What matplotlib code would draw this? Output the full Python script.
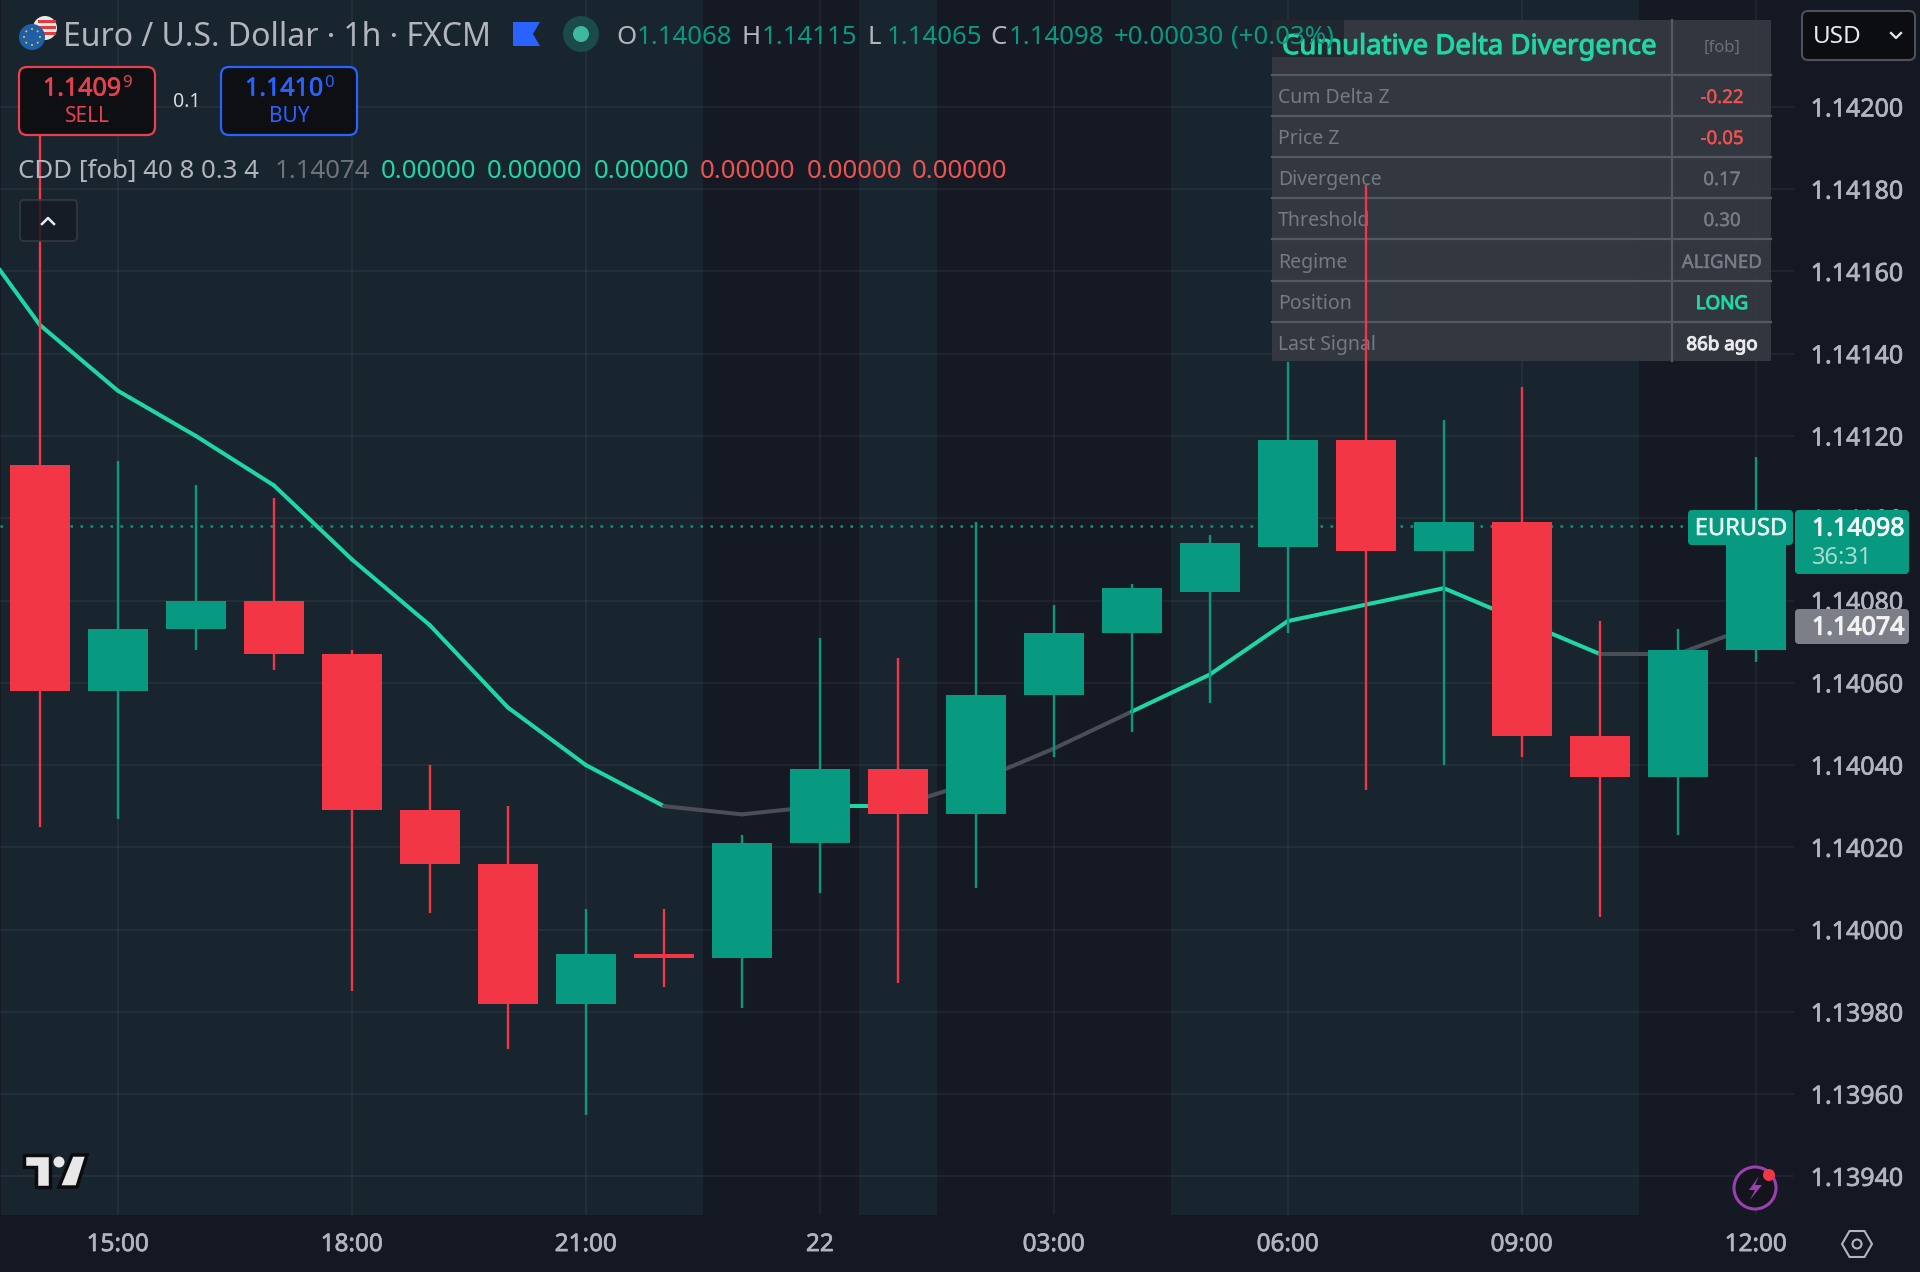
import numpy as np
import matplotlib
matplotlib.use("Agg")
import matplotlib.pyplot as plt
import matplotlib.patheffects as pe
from matplotlib.patches import Rectangle, FancyBboxPatch, Circle, Polygon

plt.rcParams['font.family'] = ['Noto Sans', 'DejaVu Sans']

# hourly candles, first bar is 14:00
opens = [1.14113, 1.14058, 1.14073, 1.14080, 1.14067, 1.14029, 1.14016, 1.13982, 1.13994, 1.13993, 1.14021, 1.14039,
         1.14028, 1.14057, 1.14072, 1.14082, 1.14093, 1.14119, 1.14092, 1.14099, 1.14047, 1.14037, 1.14068]
highs = [1.14195, 1.14114, 1.14108, 1.14105, 1.14068, 1.14040, 1.14030, 1.14005, 1.14005, 1.14023, 1.14071, 1.14066,
         1.14099, 1.14079, 1.14084, 1.14096, 1.14138, 1.14181, 1.14124, 1.14132, 1.14075, 1.14073, 1.14115]
lows = [1.14025, 1.14027, 1.14068, 1.14063, 1.13985, 1.14004, 1.13971, 1.13955, 1.13986, 1.13981, 1.14009, 1.13987,
        1.14010, 1.14042, 1.14048, 1.14055, 1.14072, 1.14034, 1.14040, 1.14042, 1.14003, 1.14023, 1.14065]
closes = [1.14058, 1.14073, 1.14080, 1.14067, 1.14029, 1.14016, 1.13982, 1.13994, 1.13993, 1.14021, 1.14039, 1.14028,
          1.14057, 1.14072, 1.14083, 1.14094, 1.14119, 1.14092, 1.14099, 1.14047, 1.14037, 1.14068, 1.14098]

# CDD line, starts one bar before the first candle
cdd = [1.14173, 1.14147, 1.14131, 1.14120, 1.14108, 1.14090, 1.14074, 1.14054, 1.14040, 1.14030, 1.14028, 1.14030,
       1.14030, 1.14036, 1.14044, 1.14053, 1.14062, 1.14075, 1.14079, 1.14083, 1.14075, 1.14067, 1.14067, 1.14074]
# 1 = teal segment into this bar, 0 = grey
cdd_active = [1, 1, 1, 1, 1, 1, 1, 1, 1, 0, 0, 1, 0, 0, 0, 1, 1, 1, 1, 1, 1, 0, 0]
# background per bar, 1 = teal shade
regime = [1, 1, 1, 1, 1, 1, 1, 1, 1, 0, 0, 1, 0, 0, 0, 1, 1, 1, 1, 1, 1, 0, 0]

time_ticks = [1, 4, 7, 10, 13, 16, 19, 22]
time_labels = ['15:00', '18:00', '21:00', '22', '03:00', '06:00', '09:00', '12:00']
price_ticks = [1.1394, 1.1396, 1.1398, 1.1400, 1.1402, 1.1404, 1.1406, 1.1408, 1.1410, 1.1412, 1.1414, 1.1416, 1.1418, 1.1420]

table_rows = ['Cum Delta Z', 'Price Z', 'Divergence', 'Threshold', 'Regime', 'Position', 'Last Signal']
table_vals = ['-0.22', '-0.05', '0.17', '0.30', 'ALIGNED', 'LONG', '86b ago']

GREEN = '#089981'
RED = '#f23645'
TEAL = '#1fd6a5'
DARK = '#151924'
SHADE = '#18252e'
TXT = '#b2b5be'


# thin outline in the text colour, the fonts here have no usable medium weight
def heavy(col, w=0.6):
    return [pe.withStroke(linewidth=w, foreground=col)]


W, H = 1920, 1272
fig = plt.figure(figsize=(W / 100, H / 100), dpi=100, facecolor='#141823')
ax = fig.add_axes([0, 1 - 1215 / H, 1794 / W, 1215 / H], zorder=1)
ax.set_facecolor(DARK)
ax.set_xlim(-0.511, 22.49)
ax.set_ylim(1.139306, 1.14226)
for s in ax.spines.values():
    s.set_visible(False)

# overlay in pixel coordinates for the toolbar widgets
ui = fig.add_axes([0, 0, 1, 1], zorder=5)
ui.set_xlim(0, W)
ui.set_ylim(H, 0)
ui.axis('off')
ui.patch.set_alpha(0)

# regime shading
for i, r in enumerate(regime):
    if r:
        ax.axvspan(i - 0.5, i + 0.5, color=SHADE, lw=0, zorder=0)

ax.set_xticks(time_ticks)
ax.set_xticklabels(time_labels, fontsize=17.5, color=TXT, path_effects=heavy(TXT, 0.5))
ax.yaxis.tick_right()
ax.set_yticks(price_ticks)
ax.set_yticklabels(['%.5f' % p for p in price_ticks], fontsize=18, color=TXT, path_effects=heavy(TXT, 0.5))
ax.tick_params(axis='x', length=0, pad=13)
ax.tick_params(axis='y', length=0, pad=12)
ax.grid(True, color='#ffffff', alpha=0.05, lw=1.3, zorder=0.5)
ax.set_axisbelow(True)

# settings table sits under the candles
tf = ui.transData
ax.add_patch(Rectangle((1272, 20), 499, 341, fc='#343841', ec='none', alpha=0.96, transform=tf, zorder=1.5))
ax.add_patch(Rectangle((1272, 20), 72, 37, fc='#1d2129', ec='none', alpha=0.75, transform=tf, zorder=1.55))
for y in [75, 116, 157, 198, 239, 281, 322]:
    ax.plot([1272, 1771], [y, y], color='#565962', lw=1.6, transform=tf, zorder=1.6)
ax.plot([1672, 1672], [20, 361], color='#565962', lw=1.6, transform=tf, zorder=1.6)
ax.text(1282, 47, 'Cumulative Delta Divergence', color=TEAL, fontsize=19.8, va='center', transform=tf, zorder=1.7,
        path_effects=heavy(TEAL, 0.8))
ax.text(1722, 48, '[fob]', color='#6d7079', fontsize=12, ha='center', va='center', transform=tf, zorder=1.7)
val_colors = ['#ef5350', '#ef5350', '#787b86', '#787b86', '#787b86', TEAL, '#e8e9ec']
for i in range(7):
    y = [98, 139, 180, 221, 263, 304, 345][i]
    ax.text(1278, y, table_rows[i], color='#767982', fontsize=14, va='center', transform=tf, zorder=1.7)
    ax.text(1722, y, table_vals[i], color=val_colors[i], fontsize=13.5, ha='center', va='center', transform=tf, zorder=1.7,
            path_effects=heavy(val_colors[i], 0.8 if i >= 5 else 0.3))

# CDD line under the candles
for i in range(len(cdd_active)):
    c = TEAL if cdd_active[i] else '#4b4e57'
    ax.plot([i - 1, i], [cdd[i], cdd[i + 1]], color=c, lw=2.9, solid_capstyle='round', zorder=2)

# last price
ax.axhline(closes[-1], color=GREEN, lw=1.8, ls=(0, (1, 3)), zorder=2.5)

# candles
for i in range(len(opens)):
    c = GREEN if closes[i] >= opens[i] else RED
    ax.vlines(i, lows[i], highs[i], color=c, lw=1.7, zorder=3)
    ax.bar(i, abs(closes[i] - opens[i]), bottom=min(opens[i], closes[i]), width=0.77, color=c, lw=0, zorder=3.2)

# header line
ui.add_patch(Circle((45, 28), 12, fc='#e8e8e8', ec='none'))
for y in [21, 27, 33]:
    ui.add_patch(Rectangle((38, y - 1.5), 18, 3, fc='#e23b3b', ec='none'))
ui.add_patch(Circle((32, 37), 13, fc='#1e5fa8', ec='none'))
for a in np.linspace(0, 2 * np.pi, 8, endpoint=False):
    ui.add_patch(Circle((32 + 8 * np.cos(a), 37 + 8 * np.sin(a)), 1, fc='#f1c232', ec='none'))
ui.text(63, 37, 'Euro / U.S. Dollar · 1h · FXCM', color=TXT, fontsize=23, va='center')
ui.add_patch(Polygon([(513, 22), (540, 22), (533, 34), (540, 46), (513, 46)], fc='#2962ff', ec='none'))
ui.add_patch(Circle((581, 34), 18, fc='#1b4a4a', ec='none'))
ui.add_patch(Circle((581, 34), 8, fc='#3fb8a0', ec='none'))
ohlc_x = [616, 637, 742, 762, 868, 887, 990, 1009]
ohlc_t = ['O', '1.14068', 'H', '1.14115', 'L', '1.14065', 'C', '1.14098']
for x, t in zip(ohlc_x, ohlc_t):
    ui.text(x, 37, t, color=GREEN if t[0] == '1' else TXT, fontsize=18.6, va='center')
ui.text(1114, 37, '+0.00030', color=GREEN, fontsize=18.6, va='center')
ui.text(1231, 37, '(+0.03%)', color=GREEN, fontsize=18.6, va='center')

# sell / buy buttons
for x0, col, price, sup, lab in [(19, '#e8404f', '1.1409', '9', 'SELL'), (221, '#2962ff', '1.1410', '0', 'BUY')]:
    ui.add_patch(FancyBboxPatch((x0, 67), 136, 68, boxstyle='round,pad=0,rounding_size=8', fc='#0e0f12', ec=col, lw=1.6))
    ui.text(x0 + 63, 89, price, color=col, fontsize=18, ha='center', va='center', path_effects=heavy(col, 0.5))
    ui.text(x0 + 108, 83, sup, color=col, fontsize=12, ha='center', va='center')
    ui.text(x0 + 68, 117, lab, color=col, fontsize=15, ha='center', va='center')
ui.text(187, 102, '0.1', color='#d8d9dd', fontsize=14, ha='center', va='center')

# indicator legend
ui.text(18, 172, 'CDD [fob] 40 8 0.3 4', color=TXT, fontsize=18.6, va='center')
ui.text(275, 172, '1.14074', color='#6f727b', fontsize=18.6, va='center')
for x in [381, 487, 594]:
    ui.text(x, 172, '0.00000', color=TEAL, fontsize=18.6, va='center')
for x in [700, 807, 912]:
    ui.text(x, 172, '0.00000', color='#ef5350', fontsize=18.6, va='center')
ui.add_patch(FancyBboxPatch((20, 200), 57, 41, boxstyle='round,pad=0,rounding_size=4', fc='#151b24', ec='#363a43', lw=1.3, alpha=0.85))
ui.plot([42, 48, 54], [224, 218, 224], color='#e8e9ec', lw=1.8)

# usd dropdown
ui.add_patch(FancyBboxPatch((1802, 11), 113, 49, boxstyle='round,pad=0,rounding_size=6', fc='#0c0d10', ec='#4e5159', lw=1.5))
ui.text(1813, 37, 'USD', color='#e8e9ec', fontsize=17.5, va='center')
ui.plot([1891, 1896, 1901], [33, 38, 33], color='#e8e9ec', lw=1.6)

# price labels
ui.add_patch(FancyBboxPatch((1688, 510), 105, 35, boxstyle='round,pad=0,rounding_size=4', fc=GREEN, ec='none'))
ui.text(1741, 529, 'EURUSD', color='#e6f5f1', fontsize=17, ha='center', va='center', path_effects=heavy('#e6f5f1', 0.4))
ui.add_patch(FancyBboxPatch((1795, 510), 114, 64, boxstyle='round,pad=0,rounding_size=4', fc=GREEN, ec='none'))
ui.text(1812, 529, '%.5f' % closes[-1], color='#f2f7f6', fontsize=18, va='center', path_effects=heavy('#f2f7f6', 0.7))
ui.text(1812, 558, '36:31', color='#a8dccf', fontsize=17, va='center')
ui.add_patch(FancyBboxPatch((1795, 609), 114, 35, boxstyle='round,pad=0,rounding_size=4', fc='#7d7f88', ec='none'))
ui.text(1812, 628, '%.5f' % cdd[-1], color='#f2f2f4', fontsize=18, va='center', path_effects=heavy('#f2f2f4', 0.9))

# tradingview logo
k = '#0b0c10'
logo_t = Polygon([(24, 1155), (50, 1155), (50, 1187), (36, 1187), (36, 1167), (24, 1167)], fc='#e8e8e8', ec=k, lw=2.5)
logo_s = Polygon([(72, 1155), (87, 1155), (77, 1187), (59, 1187)], fc='#e8e8e8', ec=k, lw=2.5)
ui.add_patch(logo_t)
ui.add_patch(logo_s)
ui.add_patch(Circle((59, 1162), 5.5, fc='#e8e8e8', ec='none'))

# lightning button
ui.add_patch(Circle((1755, 1188), 21, fc='#14151c', ec='#9c3fb0', lw=2.2))
ui.add_patch(Polygon([(1759, 1176), (1749, 1190), (1755, 1190), (1750, 1200), (1762, 1185), (1755, 1185)], fc='#9c3fb0', ec='none'))
ui.add_patch(Circle((1769, 1175), 6, fc='#f23645', ec='none'))

# settings gear
ang = np.deg2rad([0, 60, 120, 180, 240, 300])
ui.add_patch(Polygon(np.c_[1857 + 15 * np.cos(ang), 1244 + 15 * np.sin(ang)], fc='none', ec=TXT, lw=1.5))
ui.add_patch(Circle((1857, 1244), 4.5, fc='none', ec=TXT, lw=1.5))

fig.savefig('out.png', dpi=100, facecolor=fig.get_facecolor())
